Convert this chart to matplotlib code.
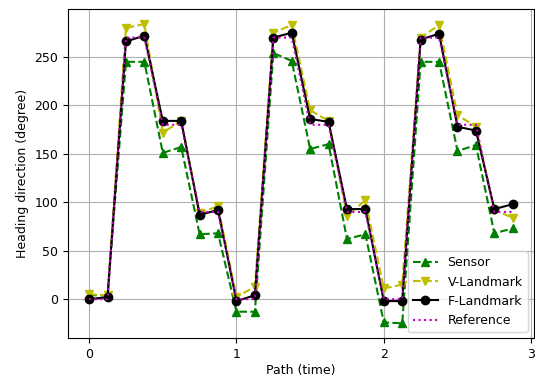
import numpy as np
import matplotlib
matplotlib.use("Agg")
import matplotlib.pyplot as plt

plt.rcParams["font.size"] = 9

# path positions (time), 8 samples per unit
path_time = np.arange(24) / 8.0

sensor = [4, 4, 245, 245, 151, 157, 67, 68,
          -13, -13, 254, 246, 155, 160, 62, 67,
          -24, -25, 245, 245, 153, 159, 68, 73]
v_landmark = [5, 4, 280, 284, 172, 184, 89, 96,
              2, 13, 275, 283, 195, 184, 86, 102,
              11, 15, 270, 283, 190, 178, 92, 84]
f_landmark = [0, 2, 266, 272, 184, 184, 87, 92,
              -2, 4, 270, 275, 186, 183, 93, 93,
              -2, -2, 268, 274, 178, 174, 93, 98]
reference = [0, 0, 270, 270, 180, 180, 90, 90,
             0, 0, 270, 270, 180, 180, 90, 90,
             0, 0, 270, 270, 180, 180, 90, 90]

fig = plt.figure(figsize=(5.35, 3.78), dpi=100)
ax = fig.add_subplot(111)
fig.subplots_adjust(left=0.127, right=0.998, bottom=0.105, top=0.976)

ax.plot(path_time, sensor, "g--^", label="Sensor")
ax.plot(path_time, v_landmark, "y--v", label="V-Landmark")
ax.plot(path_time, f_landmark, "k-o", label="F-Landmark")
ax.plot(path_time, reference, "m:", label="Reference")

ax.set_xlabel("Path (time)", labelpad=2)
ax.set_ylabel("Heading direction (degree)")
ax.set_xticks([0, 1, 2, 3])
ax.grid(True)
ax.legend(loc="lower right")

fig.savefig("out.png", dpi=100)
